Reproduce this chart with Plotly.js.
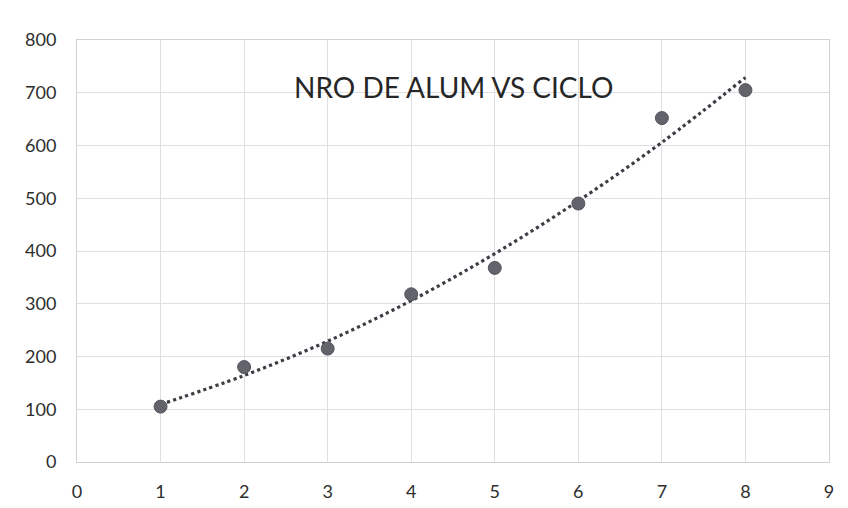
<!DOCTYPE html>
<html>
<head>
<meta charset="utf-8">
<script src="https://cdn.plot.ly/plotly-3.0.1.min.js"></script>
<style>html,body{margin:0;padding:0;background:#fff;}#chart{width:848px;height:508px;}</style>
</head>
<body>
<div id="chart"></div>
<script>
const ciclo = [1, 2, 3, 4, 5, 6, 7, 8];
const alumnos = [105, 180, 215, 318, 368, 490, 652, 705];
// polynomial trendline values
const tendencia = [109, 164, 229, 306, 395, 495, 606, 729];
const chartTitle = 'NRO DE ALUM VS CICLO';

const traces = [
  {
    x: ciclo, y: tendencia, type: 'scatter', mode: 'lines',
    line: {color: '#3d3e45', width: 3.2, dash: 'dot', shape: 'spline'},
    hoverinfo: 'skip', showlegend: false
  },
  {
    x: ciclo, y: alumnos, type: 'scatter', mode: 'markers',
    marker: {color: '#62636b', size: 13, line: {color: '#55565e', width: 1}},
    showlegend: false
  }
];

const layout = {
  width: 848, height: 508,
  margin: {l: 77, r: 19, t: 40, b: 46},
  paper_bgcolor: '#ffffff', plot_bgcolor: '#ffffff',
  font: {family: 'Lato, "Open Sans", sans-serif', color: '#333333'},
  title: {
    text: chartTitle,
    font: {family: 'Lato, "Open Sans", sans-serif', size: 28, color: '#262626'},
    x: 0.501, xanchor: 'center', xref: 'paper',
    y: 1 - 88 / 508, yanchor: 'middle', yref: 'container'
  },
  xaxis: {
    range: [0, 9], dtick: 1, tick0: 0,
    showgrid: true, gridcolor: '#dedfe3', gridwidth: 1,
    zeroline: false, showline: true, linecolor: '#d0d1d6', linewidth: 1, mirror: true,
    ticks: '', tickfont: {size: 18, color: '#2e2e2e'}, ticklabelstandoff: 13
  },
  yaxis: {
    range: [0, 800], dtick: 100, tick0: 0,
    showgrid: true, gridcolor: '#dedfe3', gridwidth: 1,
    zeroline: false, showline: true, linecolor: '#d0d1d6', linewidth: 1, mirror: true,
    ticks: '', tickfont: {size: 18, color: '#2e2e2e'}, ticklabelstandoff: 16
  }
};

Plotly.newPlot('chart', traces, layout, {displayModeBar: false, staticPlot: true});
</script>
</body>
</html>
